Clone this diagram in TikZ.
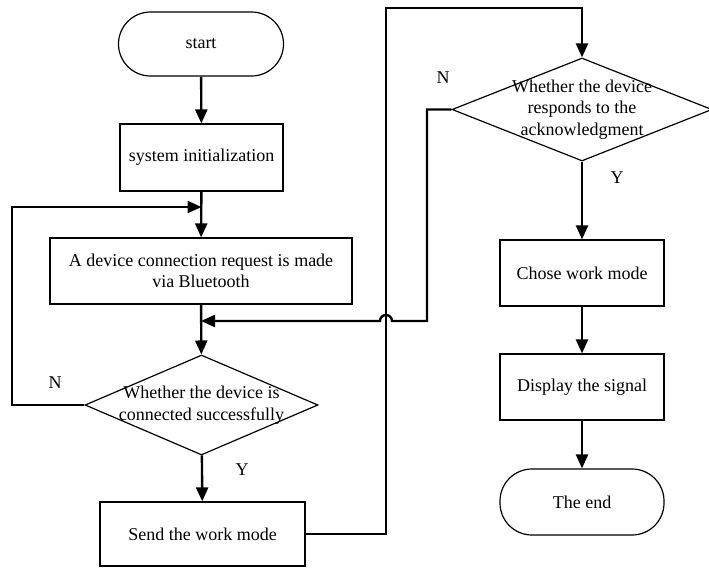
\documentclass[tikz,border=0pt]{standalone}
\usepackage{fontspec}
\setmainfont{Liberation Serif}
\usetikzlibrary{shapes.geometric,arrows.meta,calc}
\begin{document}
\begin{tikzpicture}[x=1pt,y=-1pt,
  txt/.style={font=\fontsize{18}{21.5}\selectfont, align=center},
  procbox/.style={txt, draw, line width=1.2pt, rectangle, inner sep=0pt, minimum height=66pt},
  terminal/.style={procbox, rounded corners=32pt},
  decision/.style={draw, diamond, line width=1.2pt, inner sep=0pt},
  flow/.style={line width=2.4pt, -{Triangle[length=14pt,width=12pt]}}
]
\useasboundingbox (0,0) rectangle (709,568);
% nodes
\node[terminal, minimum width=165pt, minimum height=64pt] (start) at (201,44) {start};
\node[procbox, minimum width=163pt, minimum height=67pt] (init) at (201.5,157.5) {system initialization};
\node[procbox, minimum width=302pt] (req) at (201,271) {A device connection request is made\\via Bluetooth};
\node[decision, minimum width=233pt, minimum height=100pt] (d1) at (201.5,405) {};
\node[txt] (d1t) at (d1.center) {Whether the device is\\connected successfully};
\node[procbox, minimum width=205pt, minimum height=64pt] (send) at (202.5,534) {Send the work mode};
\node[decision, minimum width=260pt, minimum height=103pt] (d2) at (582,109.5) {};
\node[txt] (d2t) at (d2.center) {Whether the device\\responds to the\\acknowledgment};
\node[procbox, minimum width=164pt] (mode) at (582,273) {Chose work mode};
\node[procbox, minimum width=164pt] (disp) at (582,387) {Display the signal};
\node[terminal, minimum width=164pt] (end) at (582,502) {The end};
% labels
\node[txt] (n1) at (55,383) {N};
\node[txt] (y1) at (242,470) {Y};
\node[txt] (n2) at (443,78) {N};
\node[txt] (y2) at (617,178) {Y};
% connectors
\draw[flow] (start) -- (init);
\draw[flow] (init) -- (req);
\draw[flow] (req) -- (d1);
\draw[flow] (d1) -- (send);
\draw[flow] (d2) -- (mode);
\draw[flow] (mode) -- (disp);
\draw[flow] (disp) -- (end);
\coordinate (fb) at (12,207);
\draw[flow] (d1.west) -- (d1.west -| fb) -- (fb) -- (fb -| init.south);
\coordinate (up) at (386,8);
\draw[flow] (send.east) -- (send.east -| up) -- (up) -- (up -| d2.north) -- (d2.north);
\coordinate (nb) at (427,321);
\draw[flow] (d2.west) -- (d2.west -| nb) -- (nb) -- ($(nb -| up)+(6,0)$) arc[start angle=0,end angle=-180,radius=6] -- (nb -| req.south);
\end{tikzpicture}
\end{document}
